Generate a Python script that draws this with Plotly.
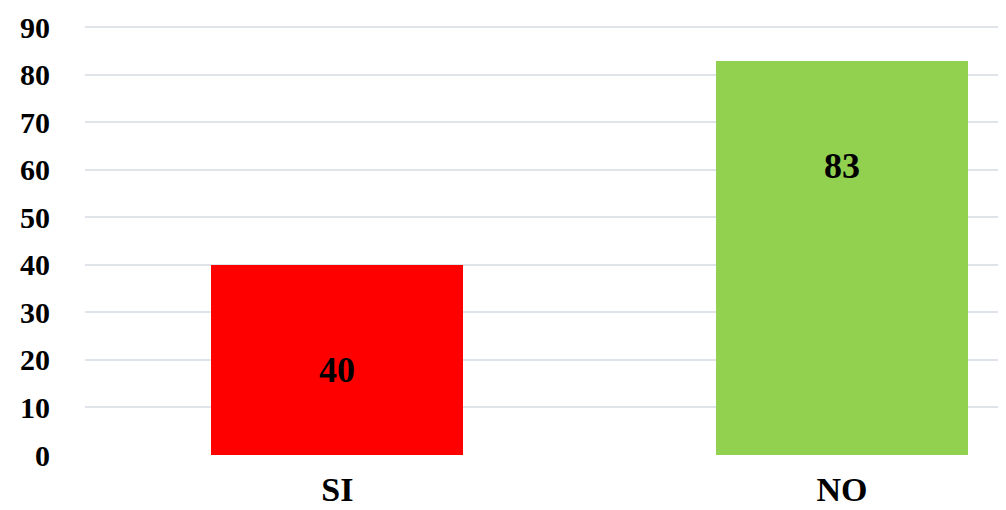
import plotly.graph_objects as go

categories = ["SI", "NO"]
values = [40, 83]
colors = ["#FF0000", "#92D050"]
y_ticks = [0, 10, 20, 30, 40, 50, 60, 70, 80, 90]

FONT = "Liberation Serif"

fig = go.Figure()
fig.add_trace(go.Bar(
    x=categories, y=values, marker=dict(color=colors, line=dict(width=0)),
    width=0.5, hoverinfo="skip",
))

for c, v in zip(categories, values):
    fig.add_annotation(
        x=c, y=v, yshift=-105, text=f"<b>{v}</b>", showarrow=False,
        font=dict(family=FONT, size=36, color="#000000"),
        xanchor="center", yanchor="middle",
    )

# page body adds an 8px margin; figure sized to fill the rest of the window
fig.update_layout(
    width=998, height=502,
    margin=dict(l=77, r=0, t=17, b=55),
    paper_bgcolor="white", plot_bgcolor="white",
    showlegend=False,
    bargap=0,
)
fig.update_xaxes(
    range=[-0.5, 1.325], showgrid=False, zeroline=False, showline=False,
    automargin=False,
    ticks="outside", ticklen=4, tickcolor="rgba(0,0,0,0)",
    tickfont=dict(family=FONT, size=34, color="#000000"),
    tickvals=categories, ticktext=[f"<b>{c}</b>" for c in categories],
)
fig.update_yaxes(
    range=[0, 90.5], tickvals=y_ticks, ticktext=[f"<b>{t}</b>" for t in y_ticks],
    showgrid=True, gridcolor="#dfe3ea", gridwidth=2, zeroline=False, showline=False,
    automargin=False,
    ticks="outside", ticklen=28, tickcolor="rgba(0,0,0,0)",
    tickfont=dict(family=FONT, size=30, color="#000000"),
)

fig.write_html("out.html")
